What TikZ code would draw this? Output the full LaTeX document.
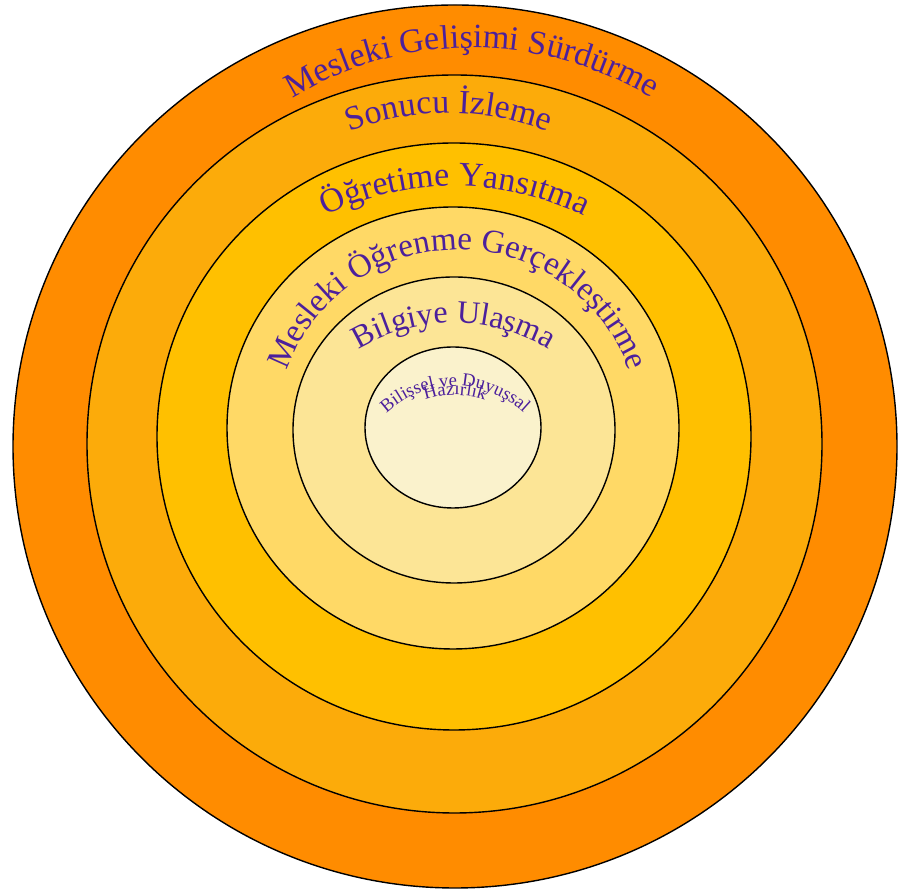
\documentclass[tikz,border=0pt]{standalone}
\usepackage{fontspec}
\setmainfont{Liberation Serif}
\usetikzlibrary{decorations.text}
\definecolor{cA}{RGB}{255,140,0}
\definecolor{cB}{RGB}{252,171,10}
\definecolor{cC}{RGB}{255,192,0}
\definecolor{cD}{RGB}{255,217,102}
\definecolor{cE}{RGB}{252,229,150}
\definecolor{cF}{RGB}{250,242,204}
\definecolor{txtc}{RGB}{76,32,156}
\begin{document}
\begin{tikzpicture}[x=1pt,y=1pt,
  ring/.style={draw=black,line width=1.4pt},
  arctext/.style 2 args={decorate,decoration={text along path,text align=center,
     text={|\fontsize{#1}{#1}\selectfont\color{txtc}|#2}}}]
\useasboundingbox (0,0) rectangle (898,891);
\fill[white] (0,0) rectangle (898,891);
\draw[ring,fill=cA] (455,444.5) ellipse [x radius=442,y radius=441.5];
\draw[ring,fill=cB] (454.5,447) ellipse [x radius=367.5,y radius=369];
\draw[ring,fill=cC] (454,454.5) ellipse [x radius=297,y radius=293.5];
\draw[ring,fill=cD] (453,463) ellipse [x radius=226,y radius=221];
\draw[ring,fill=cE] (454,461) ellipse [x radius=161,y radius=153];
\draw[ring,fill=cF] (453,463.5) ellipse [x radius=88,y radius=80.5];
\path[arctext={34}{Mesleki Gelişimi Sürdürme}] ([shift={(170:345)}]472,498) arc[start angle=170,end angle=10,radius=345];
\path[arctext={34}{Sonucu İzleme}] ([shift={(170:273)}]449,505) arc[start angle=170,end angle=10,radius=273];
\path[arctext={34}{Öğretime Yansıtma}] ([shift={(170:292)}]455,413) arc[start angle=170,end angle=10,radius=292];
\path[arctext={33}{Mesleki Öğrenme Gerçekleştirme}] ([shift={(180:181.5)}]458,459.5) arc[start angle=180,end angle=0,radius=181.5];
\path[arctext={32}{Bilgiye Ulaşma}] ([shift={(170:184)}]454,384) arc[start angle=170,end angle=10,radius=184];
\path[arctext={18.5}{Bilişsel ve Duyuşsal}] ([shift={(180:100)}]455,405) arc[start angle=180,end angle=0,radius=100];
\path[arctext={18.5}{Hazırlık}] ([shift={(180:91)}]455,405) arc[start angle=180,end angle=0,radius=91];
\end{tikzpicture}
\end{document}
